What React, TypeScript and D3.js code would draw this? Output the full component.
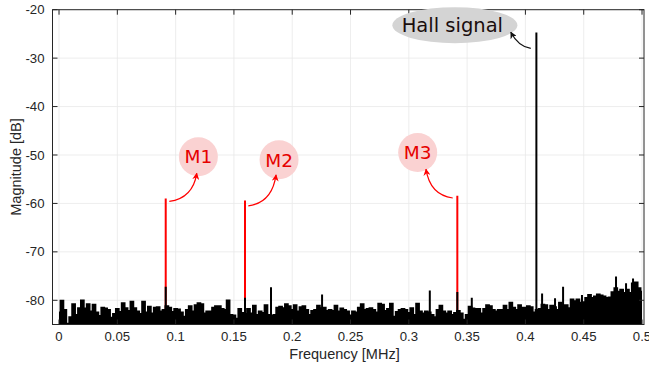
import React from "react";
import * as d3 from "d3";

// ---- data ----
const noiseStart = 0; // MHz
const noiseStep = 0.0025; // MHz
const noiseValues = [
  -82.5, -80.1, -82.0, -84.8, -83.5, -80.8, -83.0, -81.6, -80.0, -81.7,
  -80.8, -82.3, -80.9, -82.5, -83.2, -81.5, -81.7, -82.0, -83.6, -82.8,
  -81.8, -82.4, -80.6, -81.6, -82.2, -80.3, -81.6, -82.3, -82.8, -80.3,
  -82.5, -81.3, -82.7, -81.5, -81.4, -82.3, -82.0, -81.2, -81.5, -82.4,
  -81.8, -81.9, -82.5, -83.4, -82.0, -81.2, -82.3, -81.0, -80.6, -80.8,
  -82.7, -82.3, -82.3, -81.5, -81.2, -81.2, -81.8, -82.0, -80.0, -83.0,
  -83.1, -83.8, -81.8, -82.6, -82.8, -81.8, -82.7, -81.1, -83.0, -82.3,
  -82.6, -81.0, -83.0, -83.2, -83.0, -81.5, -81.3, -81.6, -80.8, -81.2,
  -82.0, -81.0, -82.3, -81.4, -81.2, -82.0, -83.0, -82.2, -82.0, -81.1,
  -81.6, -81.5, -82.2, -82.0, -82.2, -81.1, -82.3, -81.7, -82.0, -82.3,
  -83.1, -82.3, -82.5, -81.5, -80.8, -82.0, -81.8, -81.6, -82.0, -82.5,
  -80.7, -80.9, -82.2, -81.8, -80.7, -83.4, -82.4, -82.0, -81.8, -82.0,
  -82.6, -81.6, -83.0, -80.7, -82.3, -82.7, -82.3, -82.5, -83.0, -83.5,
  -82.0, -81.1, -82.3, -82.7, -82.3, -83.0, -82.6, -82.2, -82.7, -84.0,
  -83.0, -81.3, -81.7, -81.8, -81.8, -82.7, -81.8, -81.0, -81.2, -82.0,
  -82.3, -82.0, -82.0, -81.1, -82.0, -80.5, -81.5, -82.0, -81.0, -81.5,
  -81.5, -81.2, -81.4, -82.5, -82.0, -81.8, -80.9, -81.0, -82.0, -81.1,
  -81.4, -82.0, -80.5, -81.0, -81.0, -81.6, -79.8, -80.2, -79.8, -80.5,
  -80.4, -79.5, -78.9, -79.5, -79.2, -78.8, -79.0, -79.2, -79.5, -79.4,
  -78.3, -77.5, -78.2, -77.8, -78.5, -77.8, -78.5, -76.5, -76.3, -77.5,
  -78.2,
];

const spikeFreqs = [0.0915, 0.1595, 0.1818, 0.2256, 0.318, 0.3416, 0.354, 0.4094, 0.4143, 0.4254, 0.4323, 0.4485, 0.4777, 0.4863, 0.4923];
const spikeValues = [-77.2, -79.5, -77.3, -78.8, -78.0, -78.3, -79.5, -24.7, -78.6, -79.6, -77.2, -78.9, -75.1, -76.5, -75.5];

const markerLabels = ["M1", "M2", "M3"];
const markerFreqs = [0.0915, 0.1595, 0.3416];
const markerValues = [-59.0, -59.4, -58.4];
const markerBubbleFreqs = [0.1195, 0.1887, 0.3076];
const markerBubbleValues = [-50.35, -51.0, -49.5];

const hallLabel = "Hall signal";
const hallBubble = { f: 0.3395, v: -23.2 };

const xTicks = [0, 0.05, 0.1, 0.15, 0.2, 0.25, 0.3, 0.35, 0.4, 0.45, 0.5];
const xTickLabels = ["0", "0.05", "0.1", "0.15", "0.2", "0.25", "0.3", "0.35", "0.4", "0.45", "0.5"];
const yTicks = [-80, -70, -60, -50, -40, -30, -20];
const yTickLabels = ["-80", "-70", "-60", "-50", "-40", "-30", "-20"];

const W = 649;
const H = 368;
const L = 52.5, R = 644, T = 9.7, B = 324.5;

export default function App() {
  const x = d3.scaleLinear().domain([-0.0056, 0.5017]).range([L, R]);
  const y = d3.scaleLinear().domain([-85, -20]).range([B, T]);

  const noise = noiseValues.map((v, i) => ({ f: noiseStart + i * noiseStep, v }));
  const area = d3.area<{ f: number; v: number }>()
    .x((d) => x(d.f))
    .y0(y(-85))
    .y1((d) => y(d.v))
    .curve(d3.curveStep);
  const line = d3.line<{ f: number; v: number }>()
    .x((d) => x(d.f))
    .y((d) => y(d.v))
    .curve(d3.curveStep);

  const tickColor = "#262626";
  const font = "'Liberation Sans', Arial, sans-serif";
  const annFont = "'DejaVu Sans', sans-serif";

  const arrowsM = markerFreqs.map((f, i) => {
    const mx = x(f), my = y(markerValues[i]);
    const cx = x(markerBubbleFreqs[i]), cy = y(markerBubbleValues[i]);
    let sx, sy, ex, ey, qx, qy;
    if (i === 0) { sx = mx + 3.6; sy = my + 2.7; ex = cx - 1.6; ey = cy + 16.6; qx = ex - 4; qy = sy - 3; }
    else if (i === 1) { sx = mx + 3.3; sy = my + 5.3; ex = cx - 3; ey = cy + 15; qx = ex - 4; qy = sy - 3; }
    else { sx = mx - 4.6; sy = my + 2.3; ex = cx + 8.3; ey = cy + 16.6; qx = ex + 4; qy = sy - 3; }
    return `M${sx},${sy} Q${qx},${qy} ${ex},${ey}`;
  });
  const hx = x(spikeFreqs[7]), hy = y(spikeValues[7]);
  const ecx = x(hallBubble.f), ecy = y(hallBubble.v);
  const hallArrow = `M${hx - 5.6},${hy + 16} Q${hx - 18},${hy + 14} ${ecx + 55.9},${ecy + 7}`;

  return (
    <svg width={W} height={H} style={{ position: "absolute", left: 0, top: 0, background: "#fff" }}>
      <defs>
        <clipPath id="plotClip">
          <rect x={L} y={T} width={R - L} height={B - T} />
        </clipPath>
        <marker id="arrRed" viewBox="0 0 10 10" refX="9" refY="5" markerWidth="7" markerHeight="7" markerUnits="userSpaceOnUse" orient="auto">
          <path d="M0,0 L10,5 L0,10 L3,5 Z" fill="#ff0000" />
        </marker>
        <marker id="arrBlack" viewBox="0 0 10 10" refX="9" refY="5" markerWidth="7" markerHeight="7" markerUnits="userSpaceOnUse" orient="auto">
          <path d="M0,0 L10,5 L0,10 L3,5 Z" fill="#111" />
        </marker>
      </defs>
      <rect x={L} y={T} width={R - L} height={B - T} fill="#fff" />
      {xTicks.map((t) => (
        <line key={"gx" + t} x1={x(t)} x2={x(t)} y1={T} y2={B} stroke="#e8e8e8" strokeWidth={0.8} />
      ))}
      {yTicks.map((t) => (
        <line key={"gy" + t} x1={L} x2={R} y1={y(t)} y2={y(t)} stroke="#e8e8e8" strokeWidth={0.8} />
      ))}
      <g clipPath="url(#plotClip)">
        {markerFreqs.map((f, i) => (
          <line key={"m" + i} x1={x(f)} x2={x(f)} y1={y(markerValues[i])} y2={y(-85)} stroke="#ff0000" strokeWidth={2} />
        ))}
        <path d={area(noise) || ""} fill="#000" />
        <path d={line(noise) || ""} fill="none" stroke="#000" strokeWidth={1.8} />
        {spikeFreqs.map((f, i) => (
          <line key={"s" + i} x1={x(f)} x2={x(f)} y1={y(spikeValues[i])} y2={y(-85)} stroke="#000" strokeWidth={2} />
        ))}
      </g>
      <rect x={L} y={T} width={R - L} height={B - T} fill="none" stroke={tickColor} strokeWidth={1} />
      {xTicks.map((t) => (
        <g key={"tx" + t}>
          <line x1={x(t)} x2={x(t)} y1={B} y2={B - 5} stroke={tickColor} />
          <line x1={x(t)} x2={x(t)} y1={T} y2={T + 5} stroke={tickColor} />
        </g>
      ))}
      {yTicks.map((t) => (
        <g key={"ty" + t}>
          <line x1={L} x2={L + 5} y1={y(t)} y2={y(t)} stroke={tickColor} />
          <line x1={R} x2={R - 5} y1={y(t)} y2={y(t)} stroke={tickColor} />
        </g>
      ))}
      {xTicks.map((t, i) => (
        <text key={"lx" + t} x={x(t)} y={341} textAnchor="middle" fontFamily={font} fontSize={13.2} fill={tickColor}>
          {xTickLabels[i]}
        </text>
      ))}
      {yTicks.map((t, i) => (
        <text key={"ly" + t} x={44.5} y={y(t) + 4.6} textAnchor="end" fontFamily={font} fontSize={13.2} fill={tickColor}>
          {yTickLabels[i]}
        </text>
      ))}
      <text x={344.5} y={358.5} textAnchor="middle" fontFamily={font} fontSize={14.5} fill={tickColor}>
        Frequency [MHz]
      </text>
      <text transform="translate(21,167) rotate(-90)" textAnchor="middle" fontFamily={font} fontSize={14.5} fill={tickColor}>
        Magnitude [dB]
      </text>
      {markerLabels.map((lab, i) => (
        <g key={lab}>
          <circle cx={x(markerBubbleFreqs[i])} cy={y(markerBubbleValues[i])} r={19.5} fill="#fad2d2" />
          <text x={x(markerBubbleFreqs[i])} y={y(markerBubbleValues[i]) + 6.8} textAnchor="middle" fontFamily={annFont} fontSize={18.5} fill="#e60000">
            {lab}
          </text>
          <path d={arrowsM[i]} fill="none" stroke="#ff0000" strokeWidth={1.2} markerEnd="url(#arrRed)" />
        </g>
      ))}
      <ellipse cx={ecx} cy={ecy} rx={62.5} ry={18} fill="#d4d4d4" />
      <text x={ecx - 2.5} y={ecy + 7} textAnchor="middle" fontFamily={annFont} fontSize={19.5} fill="#1a0d0d">
        {hallLabel}
      </text>
      <path d={hallArrow} fill="none" stroke="#111" strokeWidth={1.2} markerEnd="url(#arrBlack)" />
    </svg>
  );
}
